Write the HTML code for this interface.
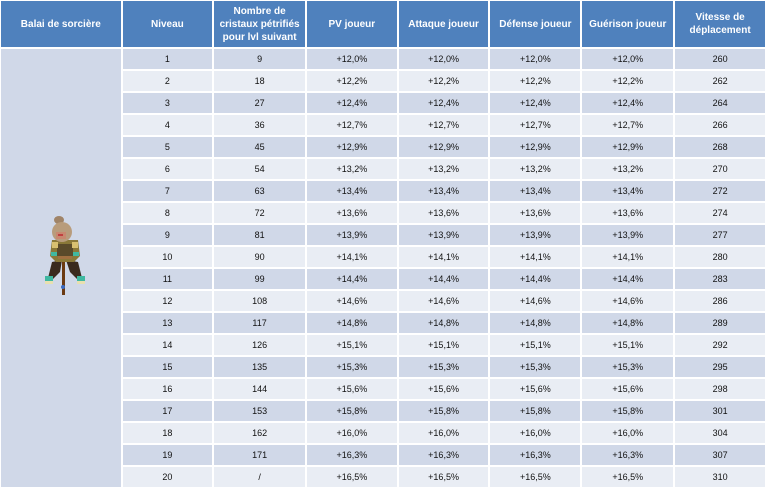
<!DOCTYPE html>
<html><head><meta charset="utf-8">
<style>
html,body{margin:0;padding:0;background:#fff;width:768px;height:487px;overflow:hidden}
table{position:absolute;left:-1px;top:-1px;border-collapse:separate;border-spacing:2px;table-layout:fixed;background:#fff}
td,th{padding:0;text-align:center;vertical-align:middle;font-family:"Liberation Sans",sans-serif;white-space:nowrap;overflow:hidden}
th{background:#4F81BD;color:#fff;font-weight:bold;font-size:10px;height:46px;line-height:13px}
td{height:20px;font-size:9px;color:#111}
tr.o td{background:#D0D8E8}
tr.e td{background:#E9EDF4}
td.side{background:#D0D8E8 !important}
#sp{position:absolute;left:40px;top:212px}
</style></head><body>
<table>
<colgroup><col style="width:120px"><col style="width:90px"><col style="width:91px"><col style="width:90px"><col style="width:90px"><col style="width:90px"><col style="width:91px"><col style="width:90px"></colgroup>
<tr><th>Balai de sorcière</th><th>Niveau</th><th>Nombre de<br>cristaux pétrifiés<br>pour lvl suivant</th><th>PV joueur</th><th>Attaque joueur</th><th>Défense joueur</th><th>Guérison joueur</th><th>Vitesse de<br>déplacement</th></tr>
<tr class="o"><td class="side" rowspan="20"></td><td>1</td><td>9</td><td>+12,0%</td><td>+12,0%</td><td>+12,0%</td><td>+12,0%</td><td>260</td></tr>
<tr class="e"><td>2</td><td>18</td><td>+12,2%</td><td>+12,2%</td><td>+12,2%</td><td>+12,2%</td><td>262</td></tr>
<tr class="o"><td>3</td><td>27</td><td>+12,4%</td><td>+12,4%</td><td>+12,4%</td><td>+12,4%</td><td>264</td></tr>
<tr class="e"><td>4</td><td>36</td><td>+12,7%</td><td>+12,7%</td><td>+12,7%</td><td>+12,7%</td><td>266</td></tr>
<tr class="o"><td>5</td><td>45</td><td>+12,9%</td><td>+12,9%</td><td>+12,9%</td><td>+12,9%</td><td>268</td></tr>
<tr class="e"><td>6</td><td>54</td><td>+13,2%</td><td>+13,2%</td><td>+13,2%</td><td>+13,2%</td><td>270</td></tr>
<tr class="o"><td>7</td><td>63</td><td>+13,4%</td><td>+13,4%</td><td>+13,4%</td><td>+13,4%</td><td>272</td></tr>
<tr class="e"><td>8</td><td>72</td><td>+13,6%</td><td>+13,6%</td><td>+13,6%</td><td>+13,6%</td><td>274</td></tr>
<tr class="o"><td>9</td><td>81</td><td>+13,9%</td><td>+13,9%</td><td>+13,9%</td><td>+13,9%</td><td>277</td></tr>
<tr class="e"><td>10</td><td>90</td><td>+14,1%</td><td>+14,1%</td><td>+14,1%</td><td>+14,1%</td><td>280</td></tr>
<tr class="o"><td>11</td><td>99</td><td>+14,4%</td><td>+14,4%</td><td>+14,4%</td><td>+14,4%</td><td>283</td></tr>
<tr class="e"><td>12</td><td>108</td><td>+14,6%</td><td>+14,6%</td><td>+14,6%</td><td>+14,6%</td><td>286</td></tr>
<tr class="o"><td>13</td><td>117</td><td>+14,8%</td><td>+14,8%</td><td>+14,8%</td><td>+14,8%</td><td>289</td></tr>
<tr class="e"><td>14</td><td>126</td><td>+15,1%</td><td>+15,1%</td><td>+15,1%</td><td>+15,1%</td><td>292</td></tr>
<tr class="o"><td>15</td><td>135</td><td>+15,3%</td><td>+15,3%</td><td>+15,3%</td><td>+15,3%</td><td>295</td></tr>
<tr class="e"><td>16</td><td>144</td><td>+15,6%</td><td>+15,6%</td><td>+15,6%</td><td>+15,6%</td><td>298</td></tr>
<tr class="o"><td>17</td><td>153</td><td>+15,8%</td><td>+15,8%</td><td>+15,8%</td><td>+15,8%</td><td>301</td></tr>
<tr class="e"><td>18</td><td>162</td><td>+16,0%</td><td>+16,0%</td><td>+16,0%</td><td>+16,0%</td><td>304</td></tr>
<tr class="o"><td>19</td><td>171</td><td>+16,3%</td><td>+16,3%</td><td>+16,3%</td><td>+16,3%</td><td>307</td></tr>
<tr class="e"><td>20</td><td>/</td><td>+16,5%</td><td>+16,5%</td><td>+16,5%</td><td>+16,5%</td><td>310</td></tr>
</table>
<svg id="sp" width="50" height="85" viewBox="0 0 50 85">
<!-- pole -->
<rect x="22" y="45" width="3" height="38" fill="#6b3a12"/>
<circle cx="23" cy="75" r="2" fill="#3a6ac0"/>
<!-- legs -->
<path d="M12 50 L22 48 L20 60 L12 68 L8 66 Z" fill="#3a2a1e"/>
<path d="M26 48 L38 50 L42 66 L38 68 L30 60 Z" fill="#3a2a1e"/>
<rect x="5" y="64" width="8" height="6" fill="#3fb8a0"/>
<rect x="5" y="69" width="8" height="3" fill="#e8e0b0"/>
<rect x="37" y="64" width="8" height="6" fill="#3fb8a0"/>
<rect x="37" y="69" width="8" height="3" fill="#e8e0b0"/>
<!-- body -->
<path d="M12 28 L38 28 L40 44 L34 50 L16 50 L10 44 Z" fill="#8a7838"/>
<rect x="17" y="32" width="16" height="12" fill="#5a4a2a"/>
<rect x="12" y="30" width="6" height="6" fill="#d8c070"/>
<rect x="32" y="30" width="6" height="6" fill="#d8c070"/>
<rect x="11" y="40" width="6" height="4" fill="#3fb8a0"/>
<rect x="33" y="40" width="6" height="4" fill="#3fb8a0"/>
<rect x="18" y="44" width="14" height="3" fill="#a07040"/>
<!-- head -->
<ellipse cx="19" cy="8" rx="5" ry="4" fill="#a08468"/>
<ellipse cx="22" cy="20" rx="10" ry="10" fill="#b89c7c"/>
<rect x="16" y="20" width="10" height="7" fill="#c88870"/>
<rect x="18" y="22" width="5" height="2" fill="#c04040"/>
</svg>
</body></html>
